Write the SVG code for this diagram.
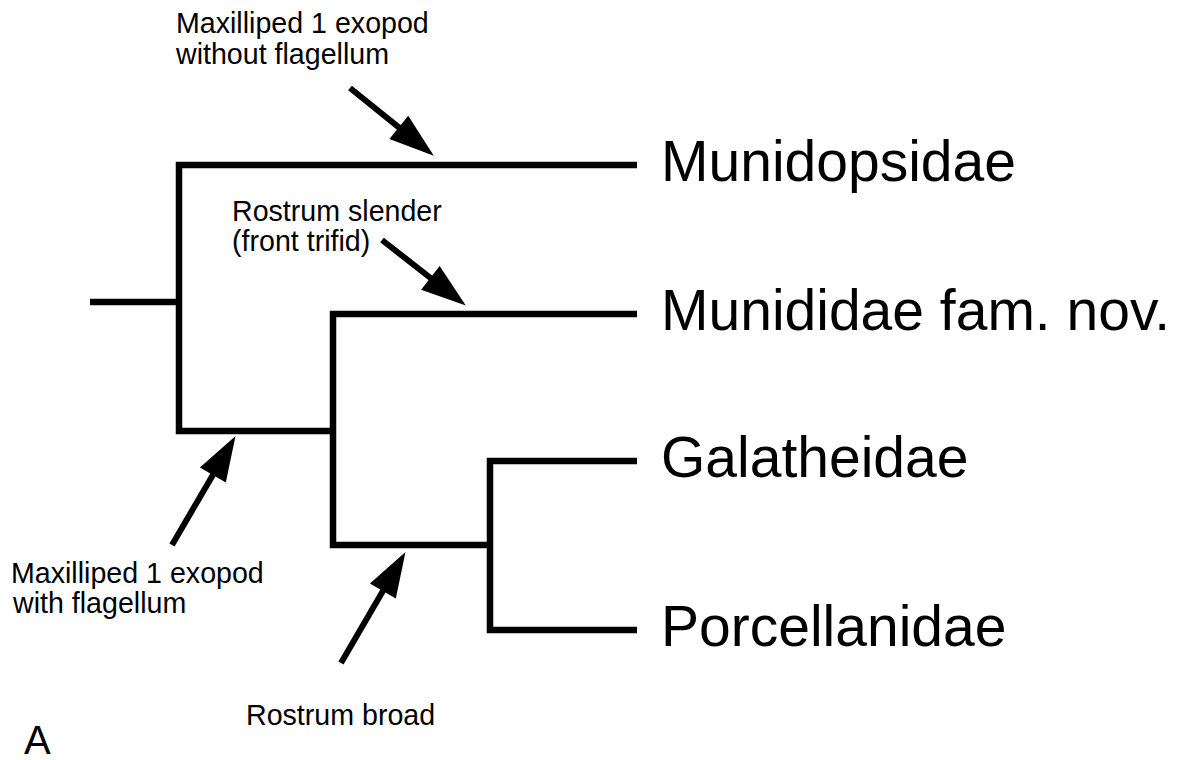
<svg xmlns="http://www.w3.org/2000/svg" width="1179" height="760" viewBox="0 0 1179 760">
<style>
.br{fill:none;stroke:#000;stroke-width:6.5;stroke-linejoin:miter;stroke-linecap:butt}
.ar{stroke:#000;stroke-width:6;fill:none;stroke-linecap:butt}
.big{font-family:"Liberation Sans",Arial,sans-serif;font-size:57px;fill:#000}
.sm{font-family:"Liberation Sans",Arial,sans-serif;font-size:28.6px;fill:#000}
.lab{font-family:"Liberation Sans",Arial,sans-serif;font-size:40px;fill:#000}
</style>
<defs>
<marker id="ah" markerUnits="userSpaceOnUse" markerWidth="48" markerHeight="32" refX="14" refY="16" orient="auto" overflow="visible">
<path d="M0,1 L45,16 L0,31 Z" fill="#000"/>
</marker>
</defs>
<rect width="1179" height="760" fill="#fff"/>
<g id="tree">
<path class="br" d="M90,302 H179"/>
<path class="br" d="M637,165 H179 V431 H333"/>
<path class="br" d="M637,314 H333 V545 H490"/>
<path class="br" d="M637,461 H490 V630 H637"/>
</g>
<g id="connectors">
<line class="ar" x1="350" y1="88" x2="409.7" y2="136.2" marker-end="url(#ah)"/>
<line class="ar" x1="382" y1="240" x2="441.4" y2="286.5" marker-end="url(#ah)"/>
<line class="ar" x1="172" y1="545" x2="219.9" y2="462.9" marker-end="url(#ah)"/>
<line class="ar" x1="341" y1="663" x2="389.9" y2="578.9" marker-end="url(#ah)"/>
</g>
<g id="taxon-munidopsidae"><text class="big" x="661" y="181">Munidopsidae</text></g>
<g id="taxon-munididae"><text class="big" x="661" y="330">Munididae fam. nov.</text></g>
<g id="taxon-galatheidae"><text class="big" x="661" y="477">Galatheidae</text></g>
<g id="taxon-porcellanidae"><text class="big" x="661" y="646">Porcellanidae</text></g>
<g id="label-without"><text class="sm" x="176" y="33">Maxilliped 1 exopod</text><text class="sm" x="176" y="64">without flagellum</text></g>
<g id="label-slender"><text class="sm" x="232" y="221">Rostrum slender</text><text class="sm" x="232" y="251">(front trifid)</text></g>
<g id="label-with"><text class="sm" x="11" y="583">Maxilliped 1 exopod</text><text class="sm" x="13" y="613">with flagellum</text></g>
<g id="label-broad"><text class="sm" x="246" y="725">Rostrum broad</text></g>
<g id="panel-label"><text class="lab" x="24" y="754">A</text></g>
</svg>
